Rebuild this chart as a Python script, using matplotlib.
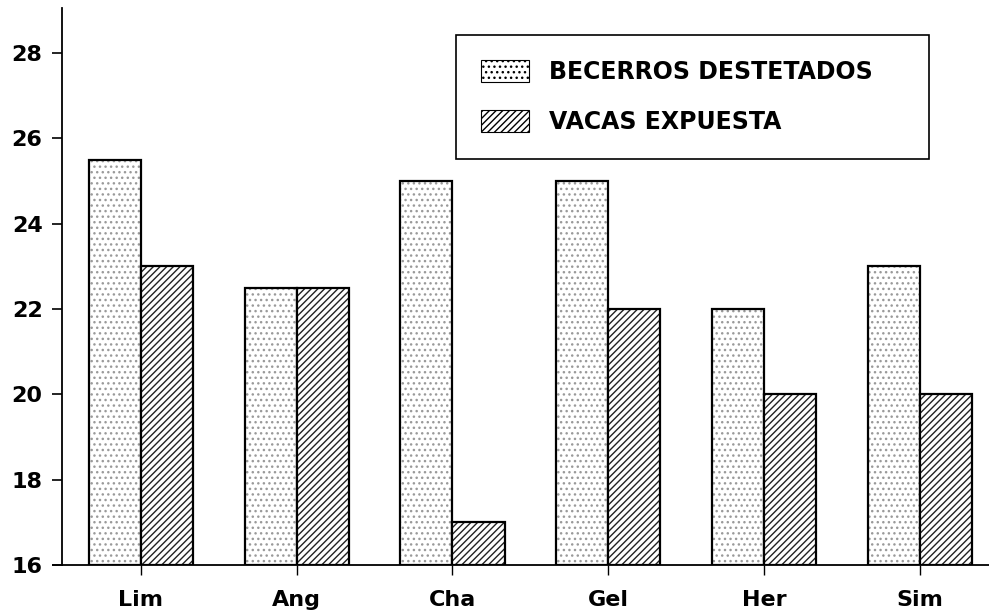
import matplotlib
matplotlib.use("Agg")
import matplotlib.pyplot as plt
import numpy as np

# data
razas = ['Lim', 'Ang', 'Cha', 'Gel', 'Her', 'Sim']
becerros = [25.5, 22.5, 25.0, 25.0, 22.0, 23.0]
vacas = [23.0, 22.5, 17.0, 22.0, 20.0, 20.0]
yticks = [16, 18, 20, 22, 24, 26, 28]

plt.rcParams['font.family'] = ['DejaVu Sans']
plt.rcParams['font.weight'] = 'bold'
plt.rcParams['hatch.linewidth'] = 1.0

fig = plt.figure(figsize=(9.89, 6.11), dpi=100)
ax = fig.add_axes([0.0627, 0.0753, 0.9373, 0.9116])

x = np.arange(len(razas))
w = 0.335

# stippled bars: grey dots first, then black outline on top
ax.bar(x - w/2, np.array(becerros) - 16, w, bottom=16, color='white',
       edgecolor='#9a9a9a', hatch='...', linewidth=0)
ax.bar(x - w/2, np.array(becerros) - 16, w, bottom=16, fill=False,
       edgecolor='black', linewidth=1.6)
# hatched bars
ax.bar(x + w/2, np.array(vacas) - 16, w, bottom=16, color='white',
       edgecolor='#222222', hatch='/////', linewidth=0)
ax.bar(x + w/2, np.array(vacas) - 16, w, bottom=16, fill=False,
       edgecolor='black', linewidth=1.6)

ax.set_xlim(-0.507, 5.445)
ax.set_ylim(16, 29.05)
ax.set_yticks(yticks)
ax.set_yticklabels([str(t) for t in yticks])
ax.set_xticks(x)
ax.set_xticklabels(razas)

for s in ['top', 'right']:
    ax.spines[s].set_visible(False)
ax.spines['left'].set_linewidth(1.3)
ax.spines['bottom'].set_linewidth(1.3)
ax.plot([-0.01, 0], [0, 0], transform=ax.transAxes, color='black',
        linewidth=1.3, clip_on=False)

ax.tick_params(axis='y', length=7, width=1.2, pad=7, labelsize=16)
ax.tick_params(axis='x', length=7, width=1.0, pad=11, labelsize=16)

# legend proxies
from matplotlib.patches import Patch
h1 = Patch(facecolor='white', edgecolor='#9a9a9a', hatch='...', linewidth=0)
h2 = Patch(facecolor='white', edgecolor='#222222', hatch='/////', linewidth=0)
leg = ax.legend([h1, h2], ['BECERROS DESTETADOS', 'VACAS EXPUESTA'],
                loc='upper left', bbox_to_anchor=(0.425, 0.7325, 0.51, 0.2185),
                mode='expand', fancybox=False, edgecolor='black', framealpha=1,
                prop={'size': 17, 'weight': 'bold'}, handlelength=2.05,
                handleheight=1.0, labelspacing=1.1, borderpad=1.05,
                handletextpad=0.85, borderaxespad=0)
leg.get_frame().set_linewidth(1.2)
for p in leg.get_patches():
    p.set_edgecolor('black')
    p.set_linewidth(0.8)

plt.savefig('out.png', dpi=100)
